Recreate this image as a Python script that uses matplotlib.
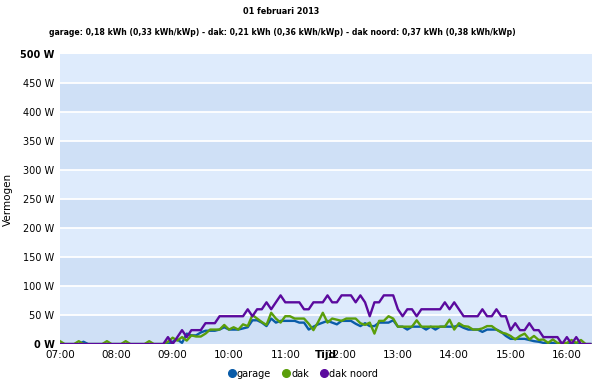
import numpy as np
import matplotlib
matplotlib.use("Agg")
import matplotlib.pyplot as plt
from matplotlib.lines import Line2D

# 5-minute samples starting at 07:00 (watts)
garage = [0, 0, 0, 0, 0, 4, 0, 0, 0, 0, 0, 0, 0, 0, 0, 0, 0, 0, 0, 0, 0, 0, 0, 0,
          4, 8, 2, 18, 15, 15, 20, 23, 23, 23, 25, 29, 25, 25, 25, 27, 29, 41, 41, 37,
          31, 44, 37, 40, 40, 40, 40, 37, 37, 25, 30, 34, 37, 40, 37, 34, 40, 40, 40, 35,
          31, 36, 31, 31, 37, 37, 37, 41, 30, 30, 25, 30, 30, 30, 25, 30, 25, 30, 30, 30,
          30, 32, 28, 25, 25, 25, 21, 25, 25, 25, 21, 14, 9, 9, 9, 9, 7, 5, 4, 2,
          2, 2, 0, 0, 0, 0, 0, 0, 0, 0]
dak = [5, 0, 0, 0, 5, 0, 0, 0, 0, 0, 5, 0, 0, 0, 5, 0, 0, 0, 0, 5, 0, 0, 0, 4,
       11, 6, 12, 6, 15, 13, 13, 18, 25, 25, 25, 33, 25, 29, 25, 34, 31, 50, 44, 38,
       33, 54, 44, 37, 48, 48, 44, 44, 44, 35, 24, 38, 54, 37, 44, 42, 40, 44, 44, 44,
       36, 33, 37, 18, 40, 40, 48, 44, 30, 30, 30, 30, 41, 30, 30, 30, 30, 30, 30, 42,
       25, 36, 31, 30, 25, 25, 27, 31, 31, 25, 20, 18, 14, 8, 14, 18, 8, 14, 7, 8,
       2, 8, 2, 2, 2, 7, 2, 7, 0, 0]
dak_noord = [0, 0, 0, 0, 0, 0, 0, 0, 0, 0, 0, 0, 0, 0, 0, 0, 0, 0, 0, 0, 0, 0, 0, 12,
             0, 12, 24, 12, 24, 24, 24, 36, 36, 36, 48, 48, 48, 48, 48, 48, 60, 48, 60, 60,
             72, 60, 72, 84, 72, 72, 72, 72, 60, 60, 72, 72, 72, 84, 72, 72, 84, 84, 84, 72,
             84, 72, 48, 72, 72, 84, 84, 84, 60, 48, 60, 60, 48, 60, 60, 60, 60, 60, 72, 60,
             72, 60, 48, 48, 48, 48, 60, 48, 48, 60, 48, 48, 24, 36, 24, 24, 36, 24, 24, 12,
             12, 12, 12, 0, 12, 0, 12, 0, 0, 0]
minutes = np.arange(len(garage)) * 5

hour_labels = ["07:00", "08:00", "09:00", "10:00", "11:00", "12:00",
               "13:00", "14:00", "15:00", "16:00"]
y_ticks = [0, 50, 100, 150, 200, 250, 300, 350, 400, 450, 500]

fig = plt.figure(figsize=(6, 3.84), dpi=100)
ax = fig.add_axes([0.1, 0.104, 0.887, 0.755])

# alternating bands
for k in range(len(y_ticks) - 1):
    col = "#cfe0f6" if k % 2 == 0 else "#deebfc"
    ax.axhspan(y_ticks[k], y_ticks[k + 1], color=col, lw=0, zorder=0)
for v in y_ticks[1:-1]:
    ax.axhline(v, color="white", lw=1.3, zorder=1)

ax.plot(minutes, garage, color="#0a5ca8", lw=1.7, zorder=3)
ax.plot(minutes, dak, color="#5a9e0a", lw=1.7, zorder=4)
ax.plot(minutes, dak_noord, color="#5b0a9e", lw=1.7, zorder=5)

ax.set_xlim(0, 567)
ax.set_ylim(0, 500)
ax.set_xticks(np.arange(len(hour_labels)) * 60)
ax.set_xticklabels(hour_labels, fontsize=7.5)
ax.set_yticks(y_ticks)
ax.set_yticklabels([f"{v} W" for v in y_ticks], fontsize=7)
for lab in (ax.get_yticklabels()[0], ax.get_yticklabels()[-1]):
    lab.set_fontweight("bold")
ax.tick_params(length=0, pad=4)
for s in ax.spines.values():
    s.set_visible(False)

ax.set_ylabel("Vermogen", fontsize=7.5, labelpad=6)
ax.yaxis.set_label_coords(-0.088, 0.5)
ax.text(0.5, -0.02, "Tijd", transform=ax.transAxes, ha="center", va="top",
        fontsize=7.5, fontweight="bold", zorder=6)

fig.text(0.468, 0.97, "01 februari 2013", ha="center", va="center",
         fontsize=5.9, fontweight="bold")
fig.text(0.47, 0.916,
         "garage: 0,18 kWh (0,33 kWh/kWp) - dak: 0,21 kWh (0,36 kWh/kWp) - dak noord: 0,37 kWh (0,38 kWh/kWp)",
         ha="center", va="center", fontsize=5.6, fontweight="bold")

handles = [Line2D([], [], ls="none", marker="o", ms=5.5, color=c)
           for c in ("#0a5ca8", "#5a9e0a", "#5b0a9e")]
fig.legend(handles, ["garage", "dak", "dak noord"], loc="center",
           bbox_to_anchor=(0.505, 0.027), ncol=3, frameon=False, fontsize=7,
           handletextpad=0.1, columnspacing=1.2, handlelength=0.8)

fig.savefig("out.png", dpi=100)
